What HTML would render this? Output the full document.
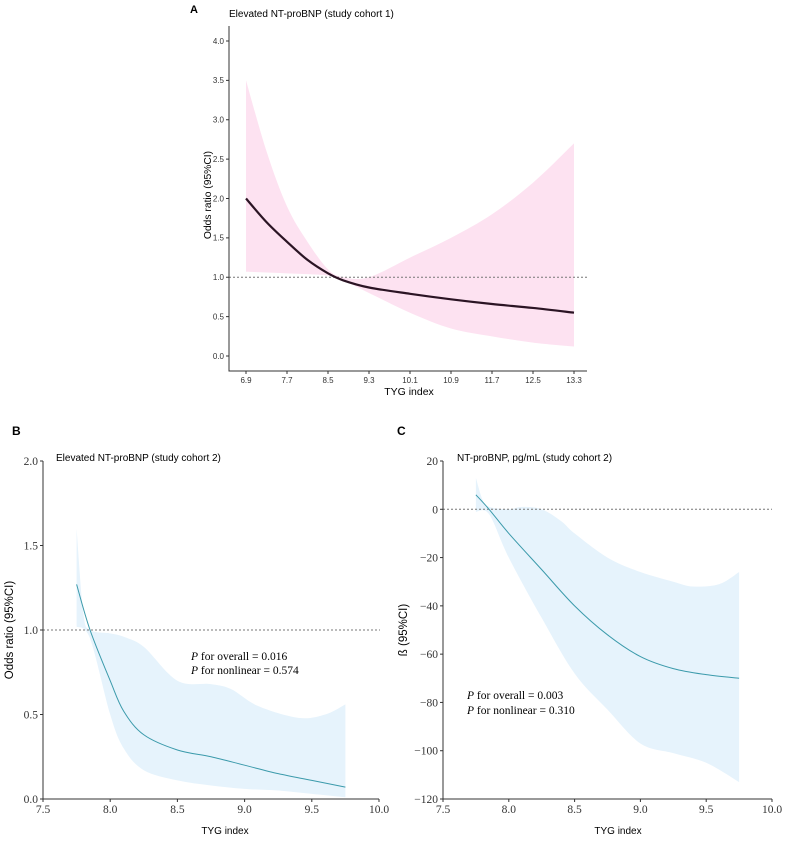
<!DOCTYPE html>
<html><head><meta charset="utf-8"><style>
body{margin:0;background:#fff}
svg{display:block}
.s{font-family:"Liberation Sans",sans-serif}
.r{font-family:"Liberation Serif",serif}
</style></head><body>
<svg id="c" width="785" height="843"></svg>
<script>
// Panel A data
const aX=[6.9,7.3,7.7,8.1,8.5,8.8,9.3,10.1,10.9,11.7,12.5,13.3];
const aMid=[2.0,1.7,1.45,1.22,1.05,0.96,0.87,0.79,0.72,0.66,0.61,0.55];
const aUp=[3.5,2.6,1.9,1.45,1.1,1.0,1.0,1.25,1.5,1.8,2.2,2.7];
const aLo=[1.07,1.06,1.05,1.04,1.02,0.96,0.8,0.55,0.35,0.25,0.17,0.12];
const aXTicks=[6.9,7.7,8.5,9.3,10.1,10.9,11.7,12.5,13.3];
const aYTicks=[0,0.5,1,1.5,2,2.5,3,3.5,4];
// Panel B data
const bX=[7.75,7.85,8.0,8.1,8.25,8.5,8.75,9.0,9.25,9.5,9.75];
const bMid=[1.27,1.0,0.7,0.52,0.38,0.29,0.25,0.2,0.15,0.11,0.07];
const bUpX=[7.75,7.8,7.85,8.0,8.1,8.25,8.5,8.75,8.9,9.1,9.4,9.6,9.75];
const bUp=[1.6,1.1,1.0,0.98,0.96,0.9,0.7,0.68,0.65,0.55,0.48,0.5,0.56];
const bLo=[1.02,0.95,0.5,0.3,0.17,0.11,0.08,0.06,0.05,0.03,0.01];
const bXTicks=[7.5,8.0,8.5,9.0,9.5,10.0];
const bYTicks=[0,0.5,1,1.5,2];
// Panel C data
const cX=[7.75,7.85,8.0,8.25,8.5,8.75,9.0,9.25,9.5,9.75];
const cMid=[6,0,-10,-25,-40,-52,-61,-66,-68.5,-70];
const cUpX=[7.75,7.8,7.85,8.0,8.1,8.25,8.4,8.5,8.75,9.0,9.25,9.4,9.6,9.75];
const cUp=[13,4,1,0,1,0,-5,-10,-20,-26,-30,-32,-31,-26];
const cLo=[-1,-2,-20,-45,-68,-83,-97,-101,-105,-113];
const cXTicks=[7.5,8.0,8.5,9.0,9.5,10.0];
const cYTicks=[-120,-100,-80,-60,-40,-20,0,20];

const NS="http://www.w3.org/2000/svg";
const svg=document.getElementById('c');
function el(t,a,p){const e=document.createElementNS(NS,t);for(const k in a)e.setAttribute(k,a[k]);(p||svg).appendChild(e);return e;}
function txt(s,a,p){const e=el('text',a,p);e.textContent=s;return e;}
function smooth(pts){let d=`M${pts[0][0]},${pts[0][1]}`;for(let i=0;i<pts.length-1;i++){const p0=pts[i-1]||pts[i],p1=pts[i],p2=pts[i+1],p3=pts[i+2]||p2;
d+=` C${p1[0]+(p2[0]-p0[0])/6},${p1[1]+(p2[1]-p0[1])/6} ${p2[0]-(p3[0]-p1[0])/6},${p2[1]-(p3[1]-p1[1])/6} ${p2[0]},${p2[1]}`;}return d;}
function panel(o){
 const g=el('g',{});
 
 
 const sx=v=>o.x0+(v-o.xmin)/(o.xmax-o.xmin)*(o.x1-o.x0);
 const sy=v=>o.y0+(v-o.ymin)/(o.ymax-o.ymin)*(o.y1-o.y0);
 const up=o.upX.map((x,i)=>[sx(x),sy(o.up[i])]);
 const lo=o.X.map((x,i)=>[sx(x),sy(o.lo[i])]).reverse();
 const band=el('path',{d:smooth(up)+' L'+lo[0][0]+','+lo[0][1]+smooth(lo).replace(/^M[^C]*/,' ')+'Z',fill:o.band},g);
 
 
 const ref=el('line',{x1:o.axX,x2:o.refEnd,y1:sy(o.ref),y2:sy(o.ref),stroke:'#777','stroke-dasharray':'2,2','stroke-width':1},g);
 
 
 const ln=el('path',{d:smooth(o.X.map((x,i)=>[sx(x),sy(o.mid[i])])),fill:'none',stroke:o.line,'stroke-width':o.lw},g);
 
 
 const ax=el('path',{d:`M${o.axX},${o.axTop} V${o.axY} H${o.axRight}`,fill:'none',stroke:'#333','stroke-width':1},g);
 
 
 o.xt.forEach(v=>{el('line',{x1:sx(v),x2:sx(v),y1:o.axY,y2:o.axY+3,stroke:'#333'},g);
  const t=txt(o.fmtx(v),{x:sx(v),y:o.axY+o.xtOff,'text-anchor':'middle','font-size':o.tfs,fill:'#333',class:o.tcls},g);
  });
 o.yt.forEach(v=>{el('line',{x1:o.axX-3,x2:o.axX,y1:sy(v),y2:sy(v),stroke:'#333'},g);
  const t=txt(o.fmty(v),{x:o.axX-5,y:sy(v)+o.tfs*0.35,'text-anchor':'end','font-size':o.tfs,fill:'#333',class:o.tcls},g);
  });
}
panel({name:'panel-a',xmin:6.9,xmax:13.3,x0:246,x1:574,ymin:0,ymax:4,y0:356,y1:41,X:aX,mid:aMid,upX:aX,up:aUp,lo:aLo,band:'#fde2f1',line:'#2b1424',lw:2.2,ref:1,axX:229,axTop:26,axY:371,axRight:587,refEnd:587,xt:aXTicks,yt:aYTicks,fmtx:v=>v.toFixed(1),fmty:v=>v.toFixed(1),tfs:8,tcls:'s',xtOff:12});
panel({name:'panel-b',xmin:7.5,xmax:10,x0:43,x1:379,ymin:0,ymax:2,y0:799,y1:461,X:bX,mid:bMid,upX:bUpX,up:bUp,lo:bLo,band:'#e6f3fc',line:'#3b9aab',lw:1,ref:1,axX:43,axTop:461,axY:799,axRight:379,refEnd:380,xt:bXTicks,yt:bYTicks,fmtx:v=>v.toFixed(1),fmty:v=>v.toFixed(1),tfs:11.5,tcls:'r',xtOff:14});
panel({name:'panel-c',xmin:7.5,xmax:10,x0:443,x1:772,ymin:-120,ymax:20,y0:799,y1:461,X:cX,mid:cMid,upX:cUpX,up:cUp,lo:cLo,band:'#e6f3fc',line:'#3b9aab',lw:1,ref:0,axX:443,axTop:461,axY:799,axRight:772,refEnd:772,xt:cXTicks,yt:cYTicks,fmtx:v=>v.toFixed(1),fmty:v=>v<0?'\u2212'+(-v):''+v,tfs:11.5,tcls:'r',xtOff:14});
</script>
<svg width="785" height="843" style="position:absolute;left:0;top:0" class="s">
<text x="190" y="13" font-size="11" font-weight="bold">A</text>
<text x="229" y="17" font-size="10">Elevated NT-proBNP (study cohort 1)</text>
<text x="409" y="395" font-size="10.5" text-anchor="middle">TYG index</text>
<text transform="translate(211,195) rotate(-90)" font-size="10.3" text-anchor="middle">Odds ratio (95%CI)</text>
<text x="12" y="435" font-size="12" font-weight="bold">B</text>
<text x="56" y="461" font-size="10">Elevated NT-proBNP (study cohort 2)</text>
<text x="225" y="834" font-size="10" text-anchor="middle">TYG index</text>
<text transform="translate(13,630) rotate(-90)" font-size="11.5" text-anchor="middle">Odds ratio (95%CI)</text>
<text x="191" y="660" font-size="11.5" font-family="Liberation Serif"><tspan font-style="italic">P</tspan>  for overall = 0.016</text>
<text x="191" y="674" font-size="11.5" font-family="Liberation Serif"><tspan font-style="italic">P</tspan>  for nonlinear = 0.574</text>
<text x="397" y="435" font-size="12" font-weight="bold">C</text>
<text x="457" y="461" font-size="10">NT-proBNP, pg/mL (study cohort 2)</text>
<text x="618" y="834" font-size="10" text-anchor="middle">TYG index</text>
<text transform="translate(407,630) rotate(-90)" font-size="11.5" text-anchor="middle">ß (95%CI)</text>
<text x="467" y="699" font-size="11.5" font-family="Liberation Serif"><tspan font-style="italic">P</tspan>  for overall = 0.003</text>
<text x="467" y="714" font-size="11.5" font-family="Liberation Serif"><tspan font-style="italic">P</tspan>  for nonlinear = 0.310</text>
</svg>
</body></html>
